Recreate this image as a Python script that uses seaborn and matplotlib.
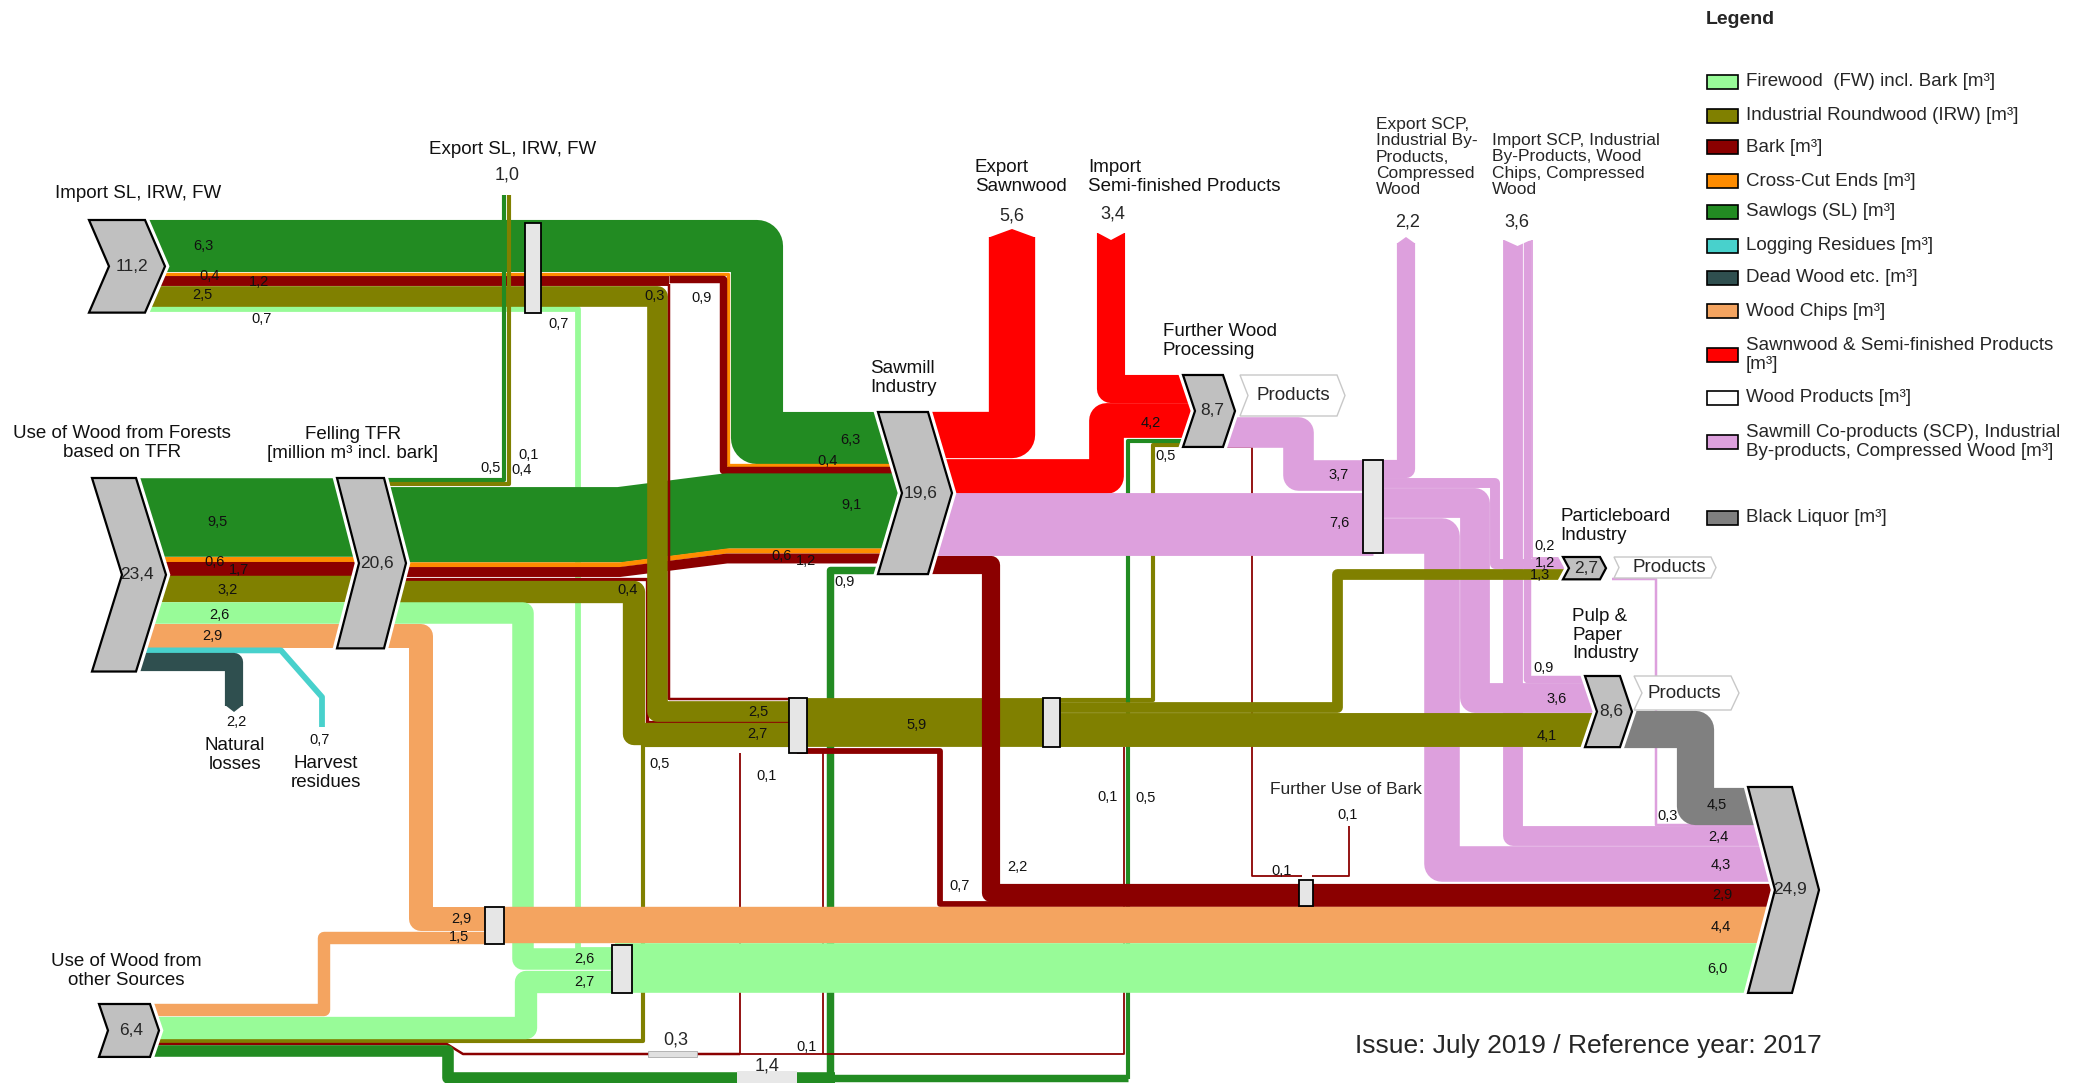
import matplotlib
matplotlib.use("Agg")
import matplotlib.pyplot as plt
from matplotlib.patches import Polygon, Rectangle
import seaborn as sns

# ---- data: wood flows in million m³ (reference year 2017) ----
node_values = [11.2, 23.4, 20.6, 19.6, 8.7, 2.7, 8.6, 24.9, 6.4]

import_vals = [6.3, 0.4, 1.2, 0.9, 2.5, 0.3, 0.7]
import_kind = ["SL", "CCE", "Bark", "Bark", "IRW", "Bark", "FW"]

forest_vals = [9.5, 0.6, 1.7, 3.2, 2.6, 2.9, 0.7, 2.2]
forest_kind = ["SL", "CCE", "Bark", "IRW", "FW", "WC", "LR", "DW"]

felling_vals = [0.5, 0.5, 9.1, 0.6, 1.2, 0.4, 2.7, 2.6, 2.9]
felling_kind = ["SL", "IRW", "SL", "CCE", "Bark", "Bark", "IRW", "FW", "WC"]

other_vals = [1.5, 2.7, 0.5, 0.3, 1.4]
other_kind = ["WC", "FW", "IRW", "Bark", "SL"]

collector_vals = [4.4, 6.0, 5.9, 0.7]
collector_kind = ["WC", "FW", "IRW", "Bark"]

sawmill_vals = [5.6, 4.2, 7.6, 2.2, 0.9]
sawmill_kind = ["SW", "SW", "SCP", "Bark", "SL"]

semi_vals = [3.4]
semi_kind = ["SW"]

fwp_vals = [3.7, 0.1, 0.5, 0.5]
fwp_kind = ["SCP", "Bark", "IRW", "SL"]

scp_vals = [2.2, 1.2, 3.6, 4.3]
scp_kind = ["SCP", "SCP", "SCP", "SCP"]

scp_import_vals = [2.4, 0.9, 0.2]
scp_import_kind = ["SCP", "SCP", "SCP"]

irw_split_vals = [1.3, 4.1]
irw_split_kind = ["IRW", "IRW"]

end_vals = [0.3, 4.5]
end_kind = ["SCP", "BL"]

bark_thin_vals = [0.1, 0.1, 0.1, 0.3, 0.1]
bark_thin_kind = ["Bark"] * 5

value_labels = [6.3, 0.4, 1.2, 2.5, 0.7, 0.3, 0.9, 0.7, 0.5, 0.1, 0.4,
                9.5, 0.6, 1.7, 3.2, 2.6, 2.9, 6.3, 0.4, 9.1, 0.6, 1.2, 0.9, 0.4,
                2.5, 2.7, 5.9, 0.5, 0.1, 4.2, 0.5, 3.7, 7.6, 0.2, 1.2, 1.3,
                0.9, 3.6, 4.1, 0.3, 4.5, 2.4, 4.3, 2.9, 4.4, 6.0,
                2.2, 0.7, 0.1, 0.1, 0.1, 0.5, 2.9, 1.5, 2.6, 2.7, 0.1, 2.2, 0.7]

head_values = [1.0, 5.6, 3.4, 2.2, 3.6, 0.3, 1.4]

legend_labels = ["Firewood  (FW) incl. Bark [m³]", "Industrial Roundwood (IRW) [m³]",
                 "Bark [m³]", "Cross-Cut Ends [m³]", "Sawlogs (SL) [m³]",
                 "Logging Residues [m³]", "Dead Wood etc. [m³]", "Wood Chips [m³]",
                 "Sawnwood & Semi-finished Products\n[m³]", "Wood Products [m³]",
                 "Sawmill Co-products (SCP), Industrial\nBy-products, Compressed Wood [m³]",
                 "Black Liquor [m³]"]
legend_kinds = ["FW", "IRW", "Bark", "CCE", "SL", "LR", "DW", "WC", "SW", "WP", "SCP", "BL"]

kind_colors = {"FW": "#98FB98", "IRW": "#808000", "Bark": "#8B0000", "CCE": "#FF8C00",
               "SL": "#228B22", "LR": "#48D1CC", "DW": "#2F4F4F", "WC": "#F4A460",
               "SW": "#FF0000", "WP": "#FFFFFF", "SCP": "#DDA0DD", "BL": "#808080"}

# ---- layout (pixel coordinates of the 2082x1083 canvas) ----
K = 8.27     # pixels per million m³
PT = 0.72    # points per pixel at 100 dpi

node_geom = [(89, 220, 56, 20), (92, 478, 44, 30), (337, 478, 47, 22), (878, 412, 50, 24),
             (1183, 375, 40, 12), (1563, 557, 37, 6), (1585, 676, 35, 12),
             (1748, 787, 44, 27), (99, 1004, 51, 9)]

import_routes = [
    [(140, 246), (757, 246), (757, 437.5), (902, 437.5)],
    [(140, 274), (727.5, 274), (727.5, 464.5), (902, 464.5)],
    [(140, 280.6), (669, 280.6)],
    [(669, 279.3), (722.5, 279.3), (722.5, 469.5), (902, 469.5)],
    [(140, 296), (657, 296), (657, 711), (795, 711)],
    [(668.5, 284), (668.5, 699), (795, 699)],
    [(140, 309.2), (578, 309.2), (578, 950), (615, 950)],
]
import_layers = [2, 2, 2, 2, 3, 3, 1]

forest_routes = [
    [(136, 517.3), (360, 517.3)], [(136, 559), (360, 559)], [(136, 568.6), (360, 568.6)],
    [(136, 588.8), (360, 588.8)], [(136, 612.8), (360, 612.8)], [(136, 635.5), (360, 635.5)],
    [(136, 650.4), (281, 650.4), (322, 697), (322, 727)],
    [(136, 662.4), (234, 662.4), (234, 706)],
]
forest_layers = [2] * 8

felling_routes = [
    [(384, 480), (504, 480), (504, 195)],
    [(384, 484), (508.5, 484), (508.5, 195)],
    [(384, 524.7), (620, 524.7), (727, 511), (902, 511)],
    [(384, 564.8), (620, 564.8), (727, 551), (902, 551)],
    [(384, 572), (620, 572), (727, 558.5), (902, 558.5)],
    [(384, 578.5), (646.5, 578.5), (646.5, 722), (795, 722)],
    [(384, 591.5), (634, 591.5), (634, 734), (795, 734)],
    [(384, 613.4), (523, 613.4), (523, 959), (615, 959)],
    [(384, 636), (421, 636), (421, 919), (495, 919)],
]
felling_layers = [3, 3, 2, 2, 2, 2, 2, 2, 2]

other_routes = [
    [(150, 1010.2), (324, 1010.2), (324, 937.5), (495, 937.5)],
    [(150, 1027.6), (526, 1027.6), (526, 982), (615, 982)],
    [(150, 1040.8), (642.5, 1040.8), (642.5, 745), (795, 745)],
    [(150, 1044.1), (447, 1044.1), (463, 1054), (650, 1054)],
    [(150, 1051.1), (448, 1051.1), (448, 1077.5), (835, 1077.5)],
]
other_layers = [6, 6, 1, 1, 1]

collector_routes = [
    [(495, 925.2), (1775, 925.2)],
    [(615, 968.2), (1775, 968.2)],
    [(795, 722.4), (1052, 722.4)],
    [(797, 751), (940, 751), (940, 904), (1775, 904)],
]
collector_layers = [6, 6, 4, 5]

sawmill_routes = [
    [(928, 435.2), (1012, 435.2), (1012, 237)],
    [(928, 475.7), (1106, 475.7), (1106, 420.4), (1195, 420.4)],
    [(928, 524.4), (1373, 524.4)],
    [(928, 565), (991, 565), (991, 892.6), (1775, 892.6)],
    [(885, 570), (829.5, 570), (829.5, 1077.5), (1127.5, 1077.5)],
]
sawmill_layers = [8, 8, 8, 5, 1]

semi_routes = [[(1111, 233), (1111, 389), (1195, 389)]]
semi_layers = [8]

fwp_routes = [
    [(1223, 431.7), (1298, 431.7), (1298, 475.3), (1373, 475.3)],
    [(1223, 446.6), (1252, 446.6), (1252, 876), (1302, 876)],
    [(1052, 700), (1152.5, 700), (1152.5, 444.5), (1195, 444.5)],
    [(1127.5, 1079), (1127.5, 440.5), (1195, 440.5)],
]
fwp_layers = [8, 1, 1, 1]

scp_routes = [
    [(1373, 469.1), (1406, 469.1), (1406, 243)],
    [(1373, 483.2), (1495, 483.2), (1495, 563.6), (1570, 563.6)],
    [(1373, 503), (1475, 503), (1475, 697.6), (1597, 697.6)],
    [(1373, 535.7), (1441.5, 535.7), (1441.5, 864.2), (1775, 864.2)],
]
scp_layers = [8, 1, 1, 1]

scp_import_routes = [
    [(1513, 240), (1513, 836.3), (1775, 836.3)],
    [(1527, 240), (1527, 678.8), (1597, 678.8)],
    [(1531.5, 240), (1531.5, 557.8), (1570, 557.8)],
]
scp_import_layers = [1, 1, 1]

irw_split_routes = [
    [(1052, 707.4), (1336.5, 707.4), (1336.5, 574), (1570, 574)],
    [(1052, 729.8), (1597, 729.8)],
]
irw_split_layers = [4, 4]

end_routes = [
    [(1612, 579), (1656, 579), (1656, 825.2), (1775, 825.2)],
    [(1620, 728.5), (1695, 728.5), (1695, 805.6), (1775, 805.6)],
]
end_layers = [1, 7]

bark_thin_routes = [
    [(697, 1054), (1124, 1054), (1124, 747)],
    [(740, 753), (740, 1054)],
    [(823, 750), (823, 1054)],
    [(697, 1054), (740, 1054)],
    [(1312, 876), (1349, 876), (1349, 826)],
]
bark_thin_layers = [1] * 5

value_label_pos = [(203, 246), (210, 276), (259, 282), (202, 295), (262, 319), (655, 296),
                   (702, 298), (559, 324), (491, 468), (529, 455), (522, 470),
                   (218, 522), (215, 562), (239, 570), (228, 590), (219, 615), (212, 636),
                   (850, 440), (828, 461), (851, 505), (782, 556), (806, 561), (845, 582),
                   (628, 590), (758, 712), (757, 734), (917, 725), (660, 764), (767, 776),
                   (1151, 423), (1166, 456), (1339, 475), (1339, 523),
                   (1545, 546), (1545, 563), (1540, 575), (1544, 668), (1557, 699), (1547, 736),
                   (1668, 816), (1717, 805), (1718, 837), (1721, 865), (1722, 895), (1721, 927),
                   (1717, 969), (1017, 867), (960, 886), (1282, 871), (1348, 815),
                   (1108, 797), (1146, 798), (461, 919), (459, 937), (584, 959), (584, 982),
                   (807, 1047), (236, 722), (320, 740)]

head_pos = [(507, 175), (1012, 216), (1113, 214), (1408, 222), (1517, 222), (676, 1040),
            (767, 1066)]

boxes = [(525, 223, 16, 90), (485, 907, 19, 37), (612, 945, 20, 48), (789, 698, 18, 55),
         (1043, 698, 17, 49), (1363, 460, 20, 93), (1299, 880, 14, 26)]

legend_y = [82, 116, 147, 181, 212, 246, 278, 311, 355, 398, 442, 518]

# ---- drawing ----
sns.set_theme(style="white")
plt.rcParams["font.family"] = ["Liberation Sans", "DejaVu Sans"]

fig = plt.figure(figsize=(20.82, 10.83), dpi=100)
ax = fig.add_axes([0, 0, 1, 1])
ax.set_xlim(0, 2082)
ax.set_ylim(1083, 0)
ax.axis("off")


def fmt(v):
    return f"{v:.1f}".replace(".", ",")


def band(route, value, color, z):
    xs = [p[0] for p in route]
    ys = [p[1] for p in route]
    width = max(value * K, 1.8)
    ax.plot(xs, ys, color=color, lw=width * PT, solid_capstyle="butt",
            solid_joinstyle="round", zorder=z)


def chevron(x0, top, h, w, d, fc="#C0C0C0", ec="black", lw=1.6, halo=True, z=20):
    mid = top + h / 2
    pts = [(x0, top), (x0 + w, top), (x0 + w + d, mid), (x0 + w, top + h),
           (x0, top + h), (x0 + d, mid)]
    if halo:
        ax.add_patch(Polygon(pts, closed=True, fc="white", ec="white", lw=6,
                             joinstyle="miter", zorder=z))
    ax.add_patch(Polygon(pts, closed=True, fc=fc, ec=ec, lw=lw, joinstyle="miter", zorder=z + 1))


groups = [
    (import_vals, import_kind, import_routes, import_layers),
    (forest_vals, forest_kind, forest_routes, forest_layers),
    (felling_vals, felling_kind, felling_routes, felling_layers),
    (other_vals, other_kind, other_routes, other_layers),
    (collector_vals, collector_kind, collector_routes, collector_layers),
    (sawmill_vals, sawmill_kind, sawmill_routes, sawmill_layers),
    (semi_vals, semi_kind, semi_routes, semi_layers),
    (fwp_vals, fwp_kind, fwp_routes, fwp_layers),
    (scp_vals, scp_kind, scp_routes, scp_layers),
    (scp_import_vals, scp_import_kind, scp_import_routes, scp_import_layers),
    (irw_split_vals, irw_split_kind, irw_split_routes, irw_split_layers),
    (end_vals, end_kind, end_routes, end_layers),
    (bark_thin_vals, bark_thin_kind, bark_thin_routes, bark_thin_layers),
]
for vals, kinds, routes, layers in groups:
    for v, k, r, z in zip(vals, kinds, routes, layers):
        band(r, v, kind_colors[k], z)

# arrow heads (export) and notches (import) at the top ends
ax.add_patch(Polygon([(988.8, 237.5), (1012, 229), (1035.2, 237.5)], fc=kind_colors["SW"], ec="none", zorder=8))
ax.add_patch(Polygon([(1396.9, 243.5), (1406, 237), (1415.1, 243.5)], fc=kind_colors["SCP"], ec="none", zorder=8))
ax.add_patch(Polygon([(1096, 232), (1111, 240), (1126, 232)], fc="white", ec="none", zorder=9))
ax.add_patch(Polygon([(1502, 239), (1517.5, 246), (1533, 239)], fc="white", ec="none", zorder=9))
ax.add_patch(Polygon([(225, 705), (234, 712), (243, 705)], fc=kind_colors["DW"], ec="none", zorder=2))

# nodes
for v, (x0, top, w, d) in zip(node_values, node_geom):
    chevron(x0, top, v * K, w, d)
    ax.text(x0 + w / 2 + d * 0.75, top + v * K / 2, fmt(v), ha="center", va="center",
            fontsize=12.5, zorder=30)

# product boxes
for (x0, top, h, w, d), tx in zip([(1240, 375, 41, 97, 8), (1614, 557, 21, 97, 5), (1634, 676, 34, 97, 8)],
                                  [(1293, 396), (1669, 567), (1684, 694)]):
    chevron(x0, top, h, w, d, fc="white", ec="#C8C8C8", lw=1.0, halo=False, z=22)
    ax.text(tx[0], tx[1], "Products", ha="center", va="center", fontsize=13.5, zorder=30)

# junction boxes
for x, y, w, h in boxes:
    ax.add_patch(Rectangle((x, y), w, h, fc="#E6E6E6", ec="black", lw=1.3, zorder=25))
ax.add_patch(Rectangle((648, 1051), 49, 6, fc="#E0E0E0", ec="#AAAAAA", lw=0.6, zorder=25))
ax.add_patch(Rectangle((737, 1071), 60, 12, fc="#E8E8E8", ec="none", zorder=25))

# flow value labels
for v, (x, y) in zip(value_labels, value_label_pos):
    ax.text(x, y, fmt(v), ha="center", va="center", fontsize=10.5, color="#111111", zorder=30)
for v, (x, y) in zip(head_values, head_pos):
    ax.text(x, y, fmt(v), ha="center", va="center", fontsize=13, zorder=30)

# captions
cap = dict(fontsize=13.5, zorder=30, color="#111111", linespacing=1.15)
ax.text(138, 194, "Import SL, IRW, FW", ha="center", va="center", **cap)
ax.text(513, 150, "Export SL, IRW, FW", ha="center", va="center", **cap)
ax.text(122, 443, "Use of Wood from Forests\nbased on TFR", ha="center", va="center", multialignment="center", **cap)
ax.text(353, 444, "Felling TFR\n[million m³ incl. bark]", ha="center", va="center", multialignment="center", **cap)
ax.text(235, 755, "Natural\nlosses", ha="center", va="center", multialignment="center", **cap)
ax.text(326, 773, "Harvest\nresidues", ha="center", va="center", multialignment="center", **cap)
ax.text(126, 971, "Use of Wood from\nother Sources", ha="center", va="center", multialignment="center", **cap)
ax.text(975, 177, "Export\nSawnwood", ha="left", va="center", **cap)
ax.text(1088, 177, "Import\nSemi-finished Products", ha="left", va="center", **cap)
ax.text(870, 378, "Sawmill\nIndustry", ha="left", va="center", **cap)
ax.text(1163, 341, "Further Wood\nProcessing", ha="left", va="center", **cap)
ax.text(1376, 157, "Export SCP,\nIndustrial By-\nProducts,\nCompressed\nWood", ha="left", va="center",
        fontsize=12.5, linespacing=1.1, zorder=30)
ax.text(1492, 165, "Import SCP, Industrial\nBy-Products, Wood\nChips, Compressed\nWood", ha="left",
        va="center", fontsize=12.5, linespacing=1.1, zorder=30)
ax.text(1560, 526, "Particleboard\nIndustry", ha="left", va="center", **cap)
ax.text(1572, 635, "Pulp &\nPaper\nIndustry", ha="left", va="center", **cap)
ax.text(1346, 790, "Further Use of Bark", ha="center", va="center", fontsize=12.5, zorder=30)
ax.text(1355, 1046, "Issue: July 2019 / Reference year: 2017", ha="left", va="center", fontsize=19, zorder=30)

# legend
ax.text(1706, 19, "Legend", ha="left", va="center", fontsize=14, fontweight="bold", zorder=30)
for lab, kind, y in zip(legend_labels, legend_kinds, legend_y):
    ax.add_patch(Rectangle((1707, y - 7), 31, 14, fc=kind_colors[kind], ec="black", lw=1.2, zorder=30))
    ax.text(1746, y, lab, ha="left", va="center", fontsize=13.5, linespacing=1.15, zorder=30)

fig.savefig("out.png", dpi=100)
